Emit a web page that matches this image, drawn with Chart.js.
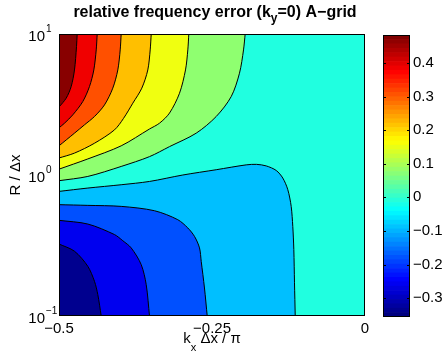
<!DOCTYPE html>
<html>
<head>
<meta charset="utf-8">
<script src="https://cdn.jsdelivr.net/npm/chart.js@4"></script>
<style>
  body { margin: 0; background: #fff; }
  #wrap { position: relative; width: 444px; height: 358px; }
  #main { position: absolute; left: 0; top: 0; }
  #cb { position: absolute; left: 383px; top: 0; }
</style>
</head>
<body>
<div id="wrap">
  <canvas id="main" width="444" height="358"></canvas>
  <canvas id="cb" width="61" height="358"></canvas>
</div>
<script>
// axis ticks
const xTicks = [-0.5, -0.25, 0];
const yTicks = [0.1, 1, 10];
const yExps = ['\u22121', '0', '1'];
const cbTicks = [-0.3, -0.2, -0.1, 0, 0.1, 0.2, 0.3, 0.4];
const colorLimits = [-0.356, 0.483];

// contour lines: [kx dx / pi, R / dx]
// upper-left family (filled towards the top edge)
const lineDarkRed = [[-0.5, 3.03], [-0.4882, 3.51], [-0.4801, 4.24], [-0.4747, 5.56], [-0.4714, 8.13], [-0.4703, 10]];
const lineRed = [[-0.5, 2.16], [-0.491, 2.33], [-0.4775, 2.67], [-0.4611, 3.32], [-0.4502, 4.24], [-0.4431, 5.56], [-0.4392, 7.71], [-0.4376, 10]];
const lineOrangeRed = [[-0.5, 1.61], [-0.4747, 1.98], [-0.4583, 2.27], [-0.442, 2.60], [-0.4257, 3.14], [-0.4121, 4.13], [-0.4039, 5.56], [-0.4, 7.71], [-0.3984, 10]];
const lineOrange = [[-0.5, 1.32], [-0.4747, 1.43], [-0.442, 1.68], [-0.4093, 2.09], [-0.3946, 2.52], [-0.3794, 3.23], [-0.3647, 4.13], [-0.3549, 5.56], [-0.351, 7.71], [-0.3493, 10]];
const lineYellow = [[-0.5, 1.10], [-0.4529, 1.30], [-0.3984, 1.61], [-0.3521, 2.12], [-0.3358, 2.33], [-0.3194, 2.75], [-0.3031, 3.80], [-0.2933, 5.56], [-0.2895, 7.71], [-0.2879, 10]];
const lineGreen = [[-0.5, 0.911], [-0.4529, 0.977], [-0.3984, 1.15], [-0.3521, 1.35], [-0.3194, 1.59], [-0.2758, 1.98], [-0.2431, 2.60], [-0.2186, 3.60], [-0.2051, 5.27], [-0.1985, 7.71], [-0.1958, 10]];
// lower-left family (filled towards the bottom edge)
const lineLightBlue = [[-0.5, 0.765], [-0.4529, 0.808], [-0.3984, 0.853], [-0.3521, 0.90], [-0.2977, 1.0], [-0.2431, 1.09], [-0.1941, 1.18], [-0.1773, 1.19], [-0.1614, 1.16], [-0.1451, 1.077], [-0.1343, 0.951], [-0.1261, 0.786], [-0.1206, 0.599], [-0.118, 0.432], [-0.1163, 0.296], [-0.1152, 0.172], [-0.114, 0.1]];
const lineBlue = [[-0.5, 0.616], [-0.4529, 0.609], [-0.3984, 0.599], [-0.344, 0.558], [-0.3059, 0.482], [-0.2895, 0.421], [-0.2786, 0.367], [-0.2704, 0.304], [-0.2676, 0.244], [-0.2623, 0.158], [-0.2578, 0.1]];
const lineBrightBlue = [[-0.5, 0.477], [-0.4529, 0.449], [-0.4093, 0.378], [-0.3958, 0.342], [-0.382, 0.304], [-0.3657, 0.2315], [-0.3575, 0.167], [-0.3521, 0.1]];
const lineNavy = [[-0.5, 0.324], [-0.4747, 0.288], [-0.4529, 0.225], [-0.442, 0.176], [-0.4366, 0.142], [-0.431, 0.1]];

const FONT = 'Liberation Sans, Arial, Helvetica, sans-serif';
const MIDDLE = '#20ffe0';

function jet(t) {
    const c = v => Math.round(255 * Math.max(0, Math.min(1, v)));
    return 'rgb(' + c(1.5 - Math.abs(4 * t - 3)) + ',' + c(1.5 - Math.abs(4 * t - 2)) + ',' + c(1.5 - Math.abs(4 * t - 1)) + ')';
}

function fmt(v) {
    if (v === 0) return '0';
    return (v < 0 ? '\u2212' : '') + String(Math.round(Math.abs(v) * 100) / 100);
}

function region(pts, color, fill, order) {
    return {
        data: pts.map(p => ({ x: p[0], y: p[1] })),
        showLine: true,
        pointRadius: 0,
        borderColor: '#000',
        borderWidth: 1,
        backgroundColor: color,
        fill: fill,
        tension: 0.3,
        order: order
    };
}

// draw a row of text pieces (for sub/superscripts)
function drawRuns(ctx, runs, x, y, align) {
    let total = 0;
    runs.forEach(r => { ctx.font = r.font; r.w = ctx.measureText(r.text).width; total += r.w; });
    let cx = align === 'center' ? x - total / 2 : x;
    ctx.textAlign = 'left';
    ctx.textBaseline = 'alphabetic';
    runs.forEach(r => { ctx.font = r.font; ctx.fillText(r.text, cx, y + (r.dy || 0)); cx += r.w; });
}

const framePlugin = {
    id: 'frame',
    beforeDatasetsDraw(chart) {
        const a = chart.chartArea, ctx = chart.ctx;
        ctx.save();
        ctx.fillStyle = MIDDLE;
        ctx.fillRect(a.left, a.top, a.right - a.left, a.bottom - a.top);
        ctx.restore();
    },
    afterDatasetsDraw(chart) {
        const a = chart.chartArea, ctx = chart.ctx;
        ctx.save();
        ctx.strokeStyle = '#000';
        ctx.lineWidth = 1;
        ctx.strokeRect(a.left + 0.5, a.top + 0.5, a.right - a.left - 1, a.bottom - a.top - 1);
        ctx.restore();
    },
    afterDraw(chart) {
        const ctx = chart.ctx, ys = chart.scales.y;
        ctx.save();
        ctx.fillStyle = '#000';
        // y tick labels 10^n
        yTicks.forEach((v, i) => {
            const py = ys.getPixelForValue(v);
            ctx.font = '15px ' + FONT;
            ctx.textAlign = 'right';
            ctx.textBaseline = 'alphabetic';
            ctx.fillText('10', 45, py + 7);
            ctx.font = '10px ' + FONT;
            ctx.textAlign = 'left';
            ctx.fillText(yExps[i], 46, py - 2);
        });
        // title
        drawRuns(ctx, [
            { text: 'relative frequency error (k', font: 'bold 16px ' + FONT },
            { text: 'y', font: 'bold 12px ' + FONT, dy: 5 },
            { text: '=0) A\u2212grid', font: 'bold 16px ' + FONT }
        ], 215, 17, 'center');
        // x axis label
        drawRuns(ctx, [
            { text: 'k', font: '15px ' + FONT },
            { text: 'x', font: '11px ' + FONT, dy: 8 },
            { text: ' \u0394x / \u03c0', font: '15px ' + FONT }
        ], 212, 343, 'center');
        // y axis label
        ctx.translate(20, 175);
        ctx.rotate(-Math.PI / 2);
        ctx.font = '15px ' + FONT;
        ctx.textAlign = 'center';
        ctx.fillText('R / \u0394x', 0, 0);
        ctx.restore();
    }
};

new Chart(document.getElementById('main'), {
    type: 'scatter',
    data: {
        datasets: [
            region(lineGreen, '#8fff70', 'end', 6),
            region(lineYellow, '#f0ff10', 'end', 5),
            region(lineOrange, '#ffbf00', 'end', 4),
            region(lineOrangeRed, '#ff5000', 'end', 3),
            region(lineRed, '#f00000', 'end', 2),
            region(lineDarkRed, '#880000', 'end', 1),
            region(lineLightBlue, '#00bfff', 'start', 4),
            region(lineBlue, '#0050ff', 'start', 3),
            region(lineBrightBlue, '#0000ef', 'start', 2),
            region(lineNavy, '#00008f', 'start', 1)
        ]
    },
    options: {
        responsive: false,
        animation: false,
        layout: { padding: { top: 34, right: 79, left: 0, bottom: 0 } },
        plugins: { legend: { display: false }, tooltip: { enabled: false } },
        scales: {
            x: {
                type: 'linear', min: -0.5, max: 0,
                grid: { display: false, drawTicks: false },
                border: { display: false },
                afterBuildTicks: s => { s.ticks = xTicks.map(v => ({ value: v })); },
                afterFit: s => { s.height = 42; },
                ticks: {
                    color: '#000', font: { family: FONT, size: 15 }, padding: 4,
                    maxRotation: 0, autoSkip: false, callback: v => fmt(v)
                }
            },
            y: {
                type: 'logarithmic', min: 0.1, max: 10,
                grid: { display: false, drawTicks: false },
                border: { display: false },
                ticks: { display: false },
                afterFit: s => { s.width = 59; }
            }
        }
    },
    plugins: [framePlugin]
});

// colour bar
const nBands = 64;
const bandStep = (colorLimits[1] - colorLimits[0]) / nBands;
const bands = [];
for (let i = 0; i < nBands; i++) {
    bands.push({
        data: [[colorLimits[0] + i * bandStep, colorLimits[0] + (i + 1) * bandStep]],
        backgroundColor: jet(i / (nBands - 1)),
        borderWidth: 0,
        grouped: false,
        barPercentage: 1,
        categoryPercentage: 1
    });
}

const cbPlugin = {
    id: 'cbframe',
    afterDatasetsDraw(chart) {
        const a = chart.chartArea, ctx = chart.ctx, ys = chart.scales.y;
        ctx.save();
        ctx.strokeStyle = '#000';
        ctx.lineWidth = 1;
        ctx.strokeRect(a.left + 0.5, a.top + 0.5, a.right - a.left - 1, a.bottom - a.top - 1);
        ctx.beginPath();
        cbTicks.forEach(v => {
            const py = Math.round(ys.getPixelForValue(v)) + 0.5;
            ctx.moveTo(a.left, py); ctx.lineTo(a.left + 3, py);
            ctx.moveTo(a.right - 3, py); ctx.lineTo(a.right, py);
        });
        ctx.stroke();
        ctx.restore();
    }
};

new Chart(document.getElementById('cb'), {
    type: 'bar',
    data: { labels: [''], datasets: bands },
    options: {
        responsive: false,
        animation: false,
        layout: { padding: { top: 35, bottom: 41, left: 0, right: 0 } },
        plugins: { legend: { display: false }, tooltip: { enabled: false } },
        scales: {
            x: { display: false },
            y: {
                position: 'right',
                min: colorLimits[0], max: colorLimits[1],
                grid: { display: false, drawTicks: false },
                border: { display: false },
                afterBuildTicks: s => { s.ticks = cbTicks.map(v => ({ value: v })); },
                afterFit: s => { s.width = 34; },
                ticks: { color: '#000', font: { family: FONT, size: 15 }, padding: 3, callback: v => fmt(v) }
            }
        }
    },
    plugins: [cbPlugin]
});
</script>
</body>
</html>
